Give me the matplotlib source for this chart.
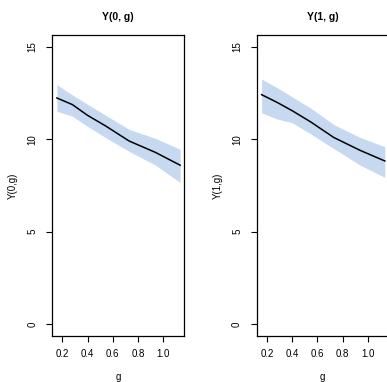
import matplotlib
matplotlib.use("Agg")
import matplotlib.pyplot as plt

plt.rcParams["font.family"] = ["Liberation Sans", "DejaVu Sans"]

# values
g = [0.157, 0.28, 0.40, 0.545, 0.73, 0.94, 1.135]

y0_mean = [12.24, 11.88, 11.30, 10.72, 9.91, 9.29, 8.60]
y0_upper = [12.96, 12.40, 11.90, 11.30, 10.54, 10.05, 9.46]
y0_lower = [11.52, 11.25, 10.70, 10.09, 9.35, 8.60, 7.67]

y1_mean = [12.42, 12.00, 11.55, 10.95, 10.10, 9.40, 8.83]
y1_upper = [13.26, 12.80, 12.30, 11.70, 10.80, 10.10, 9.60]
y1_lower = [11.44, 11.10, 10.90, 10.30, 9.50, 8.60, 7.94]

panels = [
    ("Y(0, g)", "Y(0,g)", y0_mean, y0_lower, y0_upper),
    ("Y(1, g)", "Y(1,g)", y1_mean, y1_lower, y1_upper),
]
xticks = [0.2, 0.4, 0.6, 0.8, 1.0]
yticks = [0, 5, 10, 15]

W, H = 387, 382
fig = plt.figure(figsize=(W / 100, H / 100), dpi=100)

lefts = [52, 256.7]
for left, (title, ylab, mean, lo, hi) in zip(lefts, panels):
    ax = fig.add_axes([left / W, 46 / H, 132 / W, 301 / H])
    ax.fill_between(g, lo, hi, color="#c6d9f0", linewidth=0)
    ax.plot(g, mean, color="black", linewidth=1.1)
    ax.set_xlim(0.118, 1.166)
    ax.set_ylim(-0.65, 15.65)
    ax.set_xticks(xticks)
    ax.set_xticklabels(["0.2", "0.4", "0.6", "0.8", "1.0"])
    ax.set_yticks(yticks)
    ax.set_yticklabels([str(t) for t in yticks], rotation=90, va="center")
    ax.tick_params(direction="out", length=4, width=0.8, labelsize=7,
                   colors="black")
    ax.tick_params(axis="x", pad=5.5)
    ax.tick_params(axis="y", pad=6.5)
    for s in ax.spines.values():
        s.set_linewidth(0.9)
    ax.set_title(title, fontsize=7.5, fontweight="bold", pad=11)
    ax.set_xlabel("g", fontsize=7, labelpad=9)
    ax.set_ylabel(ylab, fontsize=7, labelpad=7)

fig.savefig("out.png", dpi=100)
